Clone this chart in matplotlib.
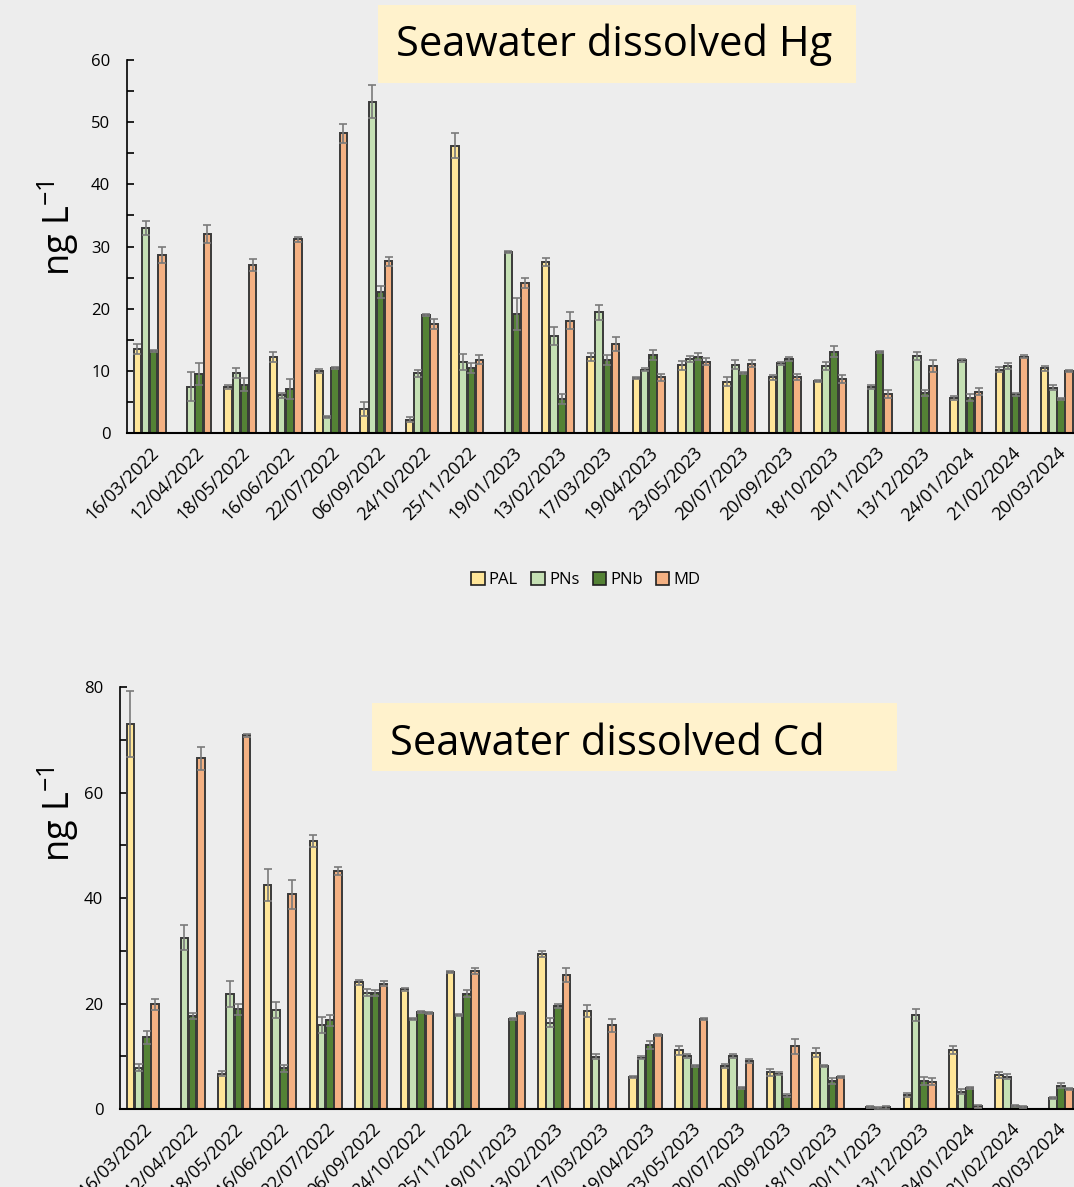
import numpy as np
import matplotlib.pyplot as plt
from matplotlib.patches import Rectangle

plt.rcParams['font.family'] = ['Open Sans', 'DejaVu Sans']

dates = ['16/03/2022', '12/04/2022', '18/05/2022', '16/06/2022', '22/07/2022',
         '06/09/2022', '24/10/2022', '25/11/2022', '19/01/2023', '13/02/2023',
         '17/03/2023', '19/04/2023', '23/05/2023', '20/07/2023', '20/09/2023',
         '18/10/2023', '20/11/2023', '13/12/2023', '24/01/2024', '21/02/2024',
         '20/03/2024']
sites = ['PAL', 'PNs', 'PNb', 'MD']
colors = ['#FFE699', '#C5E0B4', '#548235', '#F4B183']
nan = np.nan

# dissolved Hg (ng/L)
hg_pal = [13.5, nan, 7.4, 12.3, 10.0, 3.9, 2.1, 46.2, nan, 27.5, 12.2, 8.85, 10.9,
          8.25, 8.95, 8.4, nan, nan, 5.6, 10.2, 10.4]
hg_pns = [33.0, 7.45, 9.7, 6.05, 2.6, 53.3, 9.6, 11.4, 29.1, 15.6, 19.4, 10.2, 11.9,
          11.0, 11.2, 10.8, 7.35, 12.4, 11.7, 10.8, 7.3]
hg_pnb = [13.2, 9.5, 7.8, 7.1, 10.5, 22.7, 19.0, 10.5, 19.1, 5.5, 11.7, 12.5, 12.3,
          9.65, 11.85, 13.1, 13.0, 6.5, 5.7, 6.2, 5.45]
hg_md = [28.7, 32.0, 27.0, 31.2, 48.2, 27.6, 17.6, 11.8, 24.2, 18.1, 14.3, 8.95, 11.5,
         11.15, 9.05, 8.7, 6.3, 10.8, 6.65, 12.3, 10.0]
hg_pal_err = [0.8, 0, 0.3, 0.8, 0.3, 1.1, 0.4, 2.0, 0, 0.6, 0.6, 0.2, 0.7,
              0.75, 0.35, 0.2, 0, 0, 0.3, 0.4, 0.4]
hg_pns_err = [1.1, 2.3, 0.8, 0.35, 0.2, 2.7, 0.6, 1.3, 0.2, 1.5, 1.2, 0.2, 0.5,
              0.7, 0.3, 0.6, 0.3, 0.7, 0.2, 0.5, 0.35]
hg_pnb_err = [0.2, 1.7, 1.0, 1.6, 0.2, 0.9, 0.2, 0.8, 2.6, 0.8, 0.8, 0.8, 0.5,
              0.2, 0.3, 0.9, 0.2, 0.5, 0.5, 0.2, 0.2]
hg_md_err = [1.3, 1.4, 1.0, 0.4, 1.5, 0.7, 0.8, 0.7, 0.8, 1.3, 1.1, 0.55, 0.5,
             0.6, 0.45, 0.7, 0.6, 1.0, 0.55, 0.2, 0.2]

# dissolved Cd (ng/L)
cd_pal = [73.0, nan, 6.7, 42.5, 50.85, 24.0, 22.7, 26.0, nan, 29.4, 18.6, 6.15, 11.1,
          8.15, 6.95, 10.7, nan, 2.65, 11.2, 6.4, nan]
cd_pns = [7.85, 32.5, 21.8, 18.8, 15.9, 22.1, 17.0, 17.85, nan, 16.4, 9.9, 9.75, 10.05,
          10.0, 6.7, 8.2, 0.3, 17.85, 3.3, 6.15, 2.15]
cd_pnb = [13.6, 17.65, 18.9, 7.7, 16.8, 21.95, 18.35, 21.9, 17.15, 19.55, nan, 12.15, 8.2,
          4.05, 2.5, 5.3, 0.2, 5.3, 4.05, 0.55, 4.4]
cd_md = [19.85, 66.5, 70.9, 40.7, 45.2, 23.8, 18.2, 26.25, 18.15, 25.4, 15.9, 14.05, 17.0,
         9.1, 11.9, 6.1, 0.35, 5.2, 0.55, 0.4, 3.8]
cd_pal_err = [6.3, 0, 0.45, 3.0, 1.2, 0.45, 0.25, 0.25, 0, 0.6, 1.1, 0.2, 0.9,
              0.45, 0.7, 0.8, 0, 0.45, 0.8, 0.6, 0]
cd_pns_err = [0.6, 2.4, 2.4, 1.5, 1.5, 0.6, 0.2, 0.25, 0, 0.8, 0.45, 0.35, 0.3,
              0.4, 0.25, 0.2, 0.2, 1.2, 0.5, 0.4, 0.2]
cd_pnb_err = [1.2, 0.6, 1.1, 0.6, 1.0, 0.6, 0.2, 0.6, 0.2, 0.3, 0, 0.75, 0.2,
              0.2, 0.3, 0.6, 0.2, 0.7, 0.2, 0.2, 0.45]
cd_md_err = [1.05, 2.2, 0.3, 2.8, 0.8, 0.45, 0.2, 0.55, 0.2, 1.4, 1.2, 0.2, 0.2,
             0.45, 1.4, 0.2, 0.3, 0.7, 0.3, 0.2, 0.2]

bg = '#EDEDED'
fig = plt.figure(figsize=(10.74, 11.87), dpi=100, facecolor=bg)


def draw_panel(ax, series, errors, ymax, major, minor):
    x = np.arange(len(dates))
    offsets = [-0.27, -0.09, 0.09, 0.27]
    for vals, errs, col, off in zip(series, errors, colors, offsets):
        v = np.array(vals, dtype=float)
        e = np.array(errs, dtype=float)
        ok = ~np.isnan(v)
        ax.bar(x[ok] + off, v[ok], width=0.165, color=col, edgecolor='#3A3A3A',
               linewidth=1.4, zorder=2)
        ax.errorbar(x[ok] + off, v[ok], yerr=e[ok], fmt='none', ecolor='#7A7A7A',
                    elinewidth=1.2, capsize=3, capthick=1.2, zorder=3)
    ax.set_facecolor(bg)
    ax.set_ylim(0, ymax)
    ax.set_xlim(-0.5, 20.375)
    ax.set_yticks(np.arange(0, ymax + 1, major))
    ax.set_yticks(np.arange(0, ymax + 1, minor), minor=True)
    ax.tick_params(axis='y', which='both', direction='in', length=5, width=1.2,
                   labelsize=12, pad=12)
    ax.tick_params(axis='x', length=0, pad=8)
    ax.set_xticks(x)
    ax.set_xticklabels(dates, rotation=45, ha='right', va='top',
                       rotation_mode='anchor', fontsize=13)
    for s in ['top', 'right']:
        ax.spines[s].set_visible(False)
    ax.spines['left'].set_linewidth(1.2)
    ax.spines['bottom'].set_linewidth(1.5)
    ax.set_ylabel('ng L$^{\\mathregular{-1}}$', fontsize=26, labelpad=6)


ax1 = fig.add_axes([0.1182, 0.6352, 0.8818, 0.3142])
draw_panel(ax1, [hg_pal, hg_pns, hg_pnb, hg_md],
           [hg_pal_err, hg_pns_err, hg_pnb_err, hg_md_err], 60, 10, 5)
ax1.yaxis.set_label_coords(-0.048, 0.55)

ax2 = fig.add_axes([0.1117, 0.0657, 0.8883, 0.3553])
draw_panel(ax2, [cd_pal, cd_pns, cd_pnb, cd_md],
           [cd_pal_err, cd_pns_err, cd_pnb_err, cd_md_err], 80, 20, 10)
ax2.yaxis.set_label_coords(-0.041, 0.70)

# title boxes
fig.patches.append(Rectangle((378 / 1074, 1 - 83 / 1187), 478 / 1074, 78 / 1187,
                             transform=fig.transFigure, facecolor='#FFF2CC',
                             edgecolor='none', zorder=5))
fig.text(614 / 1074, 1 - 45 / 1187, 'Seawater dissolved Hg', fontsize=30,
         ha='center', va='center', zorder=6)
fig.patches.append(Rectangle((372 / 1074, 1 - 771 / 1187), 525 / 1074, 68 / 1187,
                             transform=fig.transFigure, facecolor='#FFF2CC',
                             edgecolor='none', zorder=5))
fig.text(607 / 1074, 1 - 744 / 1187, 'Seawater dissolved Cd', fontsize=30,
         ha='center', va='center', zorder=6)

handles = [Rectangle((0, 0), 1, 1, facecolor=c, edgecolor='#202020', linewidth=1.2)
           for c in colors]
fig.legend(handles, sites, loc='center', bbox_to_anchor=(0.5456, 1 - 580 / 1187),
           ncol=4, frameon=False, fontsize=12, handlelength=0.8, handleheight=0.8,
           handletextpad=0.25, columnspacing=0.8)

plt.savefig('out.png', dpi=100, facecolor=bg)
